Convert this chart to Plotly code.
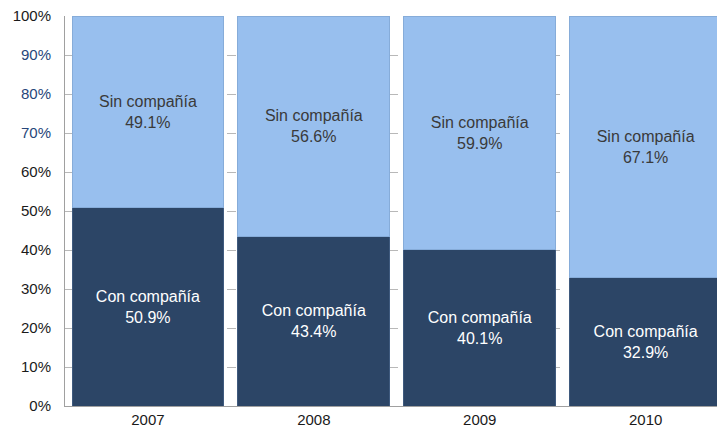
import plotly.graph_objects as go

YEARS = ['2007', '2008', '2009', '2010']
CON_COMPANIA = [50.9, 43.4, 40.1, 32.9]
SIN_COMPANIA = [49.1, 56.6, 59.9, 67.1]
Y_TICKS = [0, 10, 20, 30, 40, 50, 60, 70, 80, 90, 100]
BLUE_TICKS = [70, 80, 90]

COLOR_DARK = '#2c4566'
COLOR_LIGHT = '#98bfee'

fig = go.Figure()
fig.add_trace(go.Bar(
    x=YEARS, y=CON_COMPANIA, name='Con compañía',
    marker=dict(color=COLOR_DARK, line=dict(color='#3f5a7e', width=1)),
    text=[f'Con compañía<br>{v:.1f}%' for v in CON_COMPANIA],
    textposition='inside', insidetextanchor='middle',
    textfont=dict(color='white', size=16),
    hoverinfo='skip',
))
fig.add_trace(go.Bar(
    x=YEARS, y=SIN_COMPANIA, name='Sin compañía',
    marker=dict(color=COLOR_LIGHT, line=dict(color='#86acd9', width=1)),
    text=[f'Sin compañía<br>{v:.1f}%' for v in SIN_COMPANIA],
    textposition='inside', insidetextanchor='middle',
    textfont=dict(color='#3a3a3a', size=16),
    hoverinfo='skip',
))

tick_text = [
    f"<span style='color:#27467a'>{t}%</span>" if t in BLUE_TICKS else f'{t}%'
    for t in Y_TICKS
]

fig.update_layout(
    barmode='stack',
    bargap=0.085,
    width=717, height=435,
    plot_bgcolor='#ffffff',
    paper_bgcolor='#ffffff',
    font=dict(family='Liberation Sans, Arial, sans-serif', color='#1a1a1a', size=15),
    margin=dict(l=65, r=0, t=16, b=29, autoexpand=False),
    showlegend=False,
    uniformtext=dict(mode=False),
)
fig.update_xaxes(
    range=[-0.5, 3.43], showline=True, linecolor='#a0a0a0', linewidth=1,
    ticks='', tickfont=dict(size=15, color='#1a1a1a'), showgrid=False,
    automargin=False,
)
fig.update_yaxes(
    range=[0, 100], tickvals=Y_TICKS, ticktext=tick_text,
    showline=True, linecolor='#a0a0a0', linewidth=1,
    showgrid=True, gridcolor='#b8b8b8', griddash='dash', gridwidth=1,
    ticks='', tickfont=dict(size=15, color='#1a1a1a'), zeroline=False,
    automargin=False, ticklabelstandoff=10,
)

fig.write_html('out.html', config={'displayModeBar': False},
               post_script="document.body.style.margin='0';")
